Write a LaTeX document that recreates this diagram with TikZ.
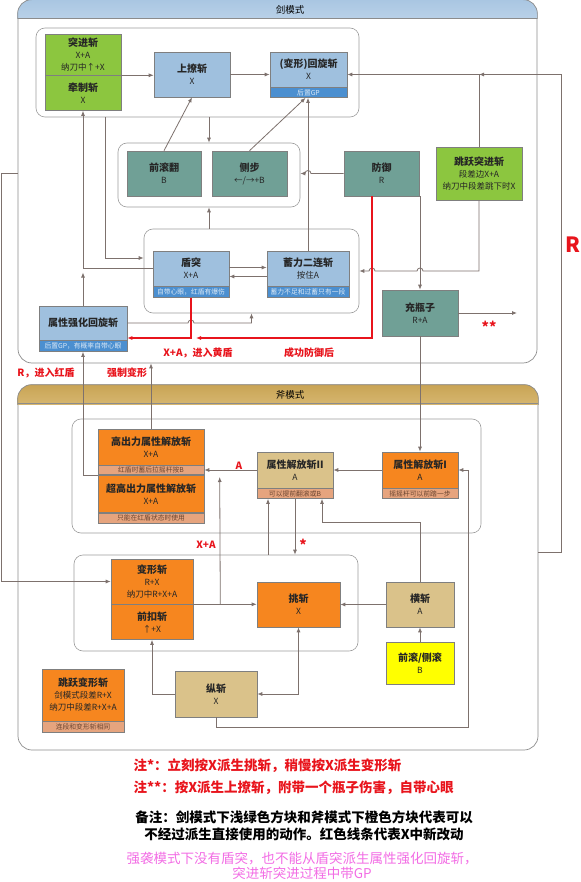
\documentclass[tikz,border=0pt]{standalone}
\usepackage{fontspec}
\setmainfont{Noto Sans CJK SC}
\usetikzlibrary{positioning,arrows.meta,calc}

\definecolor{lineg}{HTML}{7D716D}
\definecolor{frameg}{HTML}{8C8C8C}
\definecolor{groupg}{HTML}{9C9C9C}
\definecolor{edgeg}{HTML}{7F7F7F}
\definecolor{swordblue}{HTML}{9FC0DE}
\definecolor{swordtop}{HTML}{A9C6E2}
\definecolor{swordbottom}{HTML}{CBDDEE}
\definecolor{axetop}{HTML}{C9A455}
\definecolor{axebottom}{HTML}{E3C98A}
\definecolor{barblue}{HTML}{4B8FD0}
\definecolor{guardteal}{HTML}{70A096}
\definecolor{leafgreen}{HTML}{8CC63F}
\definecolor{axeorange}{HTML}{F6861F}
\definecolor{axetan}{HTML}{DAC28A}
\definecolor{peach}{HTML}{E6A47E}
\definecolor{peachtext}{HTML}{6B4530}
\definecolor{rollyellow}{HTML}{FFFF00}
\definecolor{redline}{HTML}{E8141C}
\definecolor{notepink}{HTML}{F26CE4}

\newcommand\subline[1]{\\{\mdseries\fontsize{8.5}{10.5}\selectfont #1}}

\begin{document}
\begin{tikzpicture}[x=1pt,y=-1pt,
  >={Latex[length=5pt,width=4pt]},
  modeframe/.style={draw=frameg,line width=0.7pt,rounded corners=14pt,fill=white,inner sep=0},
  grp/.style={draw=groupg,line width=0.6pt,rounded corners=9pt,inner sep=0},
  block/.style={draw=edgeg,line width=0.6pt,align=center,inner sep=1pt,text=black!85,
    font=\bfseries\fontsize{10}{12}\selectfont},
  bluebox/.style={block,fill=swordblue},
  greenbox/.style={block,fill=leafgreen},
  tealbox/.style={block,fill=guardteal},
  orangebox/.style={block,fill=axeorange},
  tanbox/.style={block,fill=axetan},
  yellowbox/.style={block,fill=rollyellow},
  subbar/.style={draw=edgeg,line width=0.6pt,inner sep=0,minimum height=10pt,
    font=\fontsize{6.8}{7}\selectfont},
  bluebar/.style={subbar,fill=barblue,text=white!80!barblue},
  peachbar/.style={subbar,fill=peach,text=peachtext},
  flow/.style={->,draw=lineg,line width=0.8pt},
  redflow/.style={->,draw=redline,line width=1.4pt},
  redtext/.style={text=redline,font=\bfseries\fontsize{10}{12}\selectfont},
  note/.style={font=\bfseries\fontsize{13.5}{17}\selectfont,align=center}
]
  \useasboundingbox (0,0) rectangle (580,882);

  % mode frames
  \node[modeframe,minimum width=519pt,minimum height=363pt] (sword) at (277.5,181.5) {};
  \node[modeframe,minimum width=520pt,minimum height=365pt] (axe) at (278,567.5) {};
  \begin{scope}
    \clip (0,-2) rectangle (580,19);
    \draw[frameg,line width=0.7pt,top color=swordtop,bottom color=swordbottom,rounded corners=14pt]
      (sword.north west) rectangle ($(sword.north east)+(0,-40pt)$);
  \end{scope}
  \draw[frameg,line width=0.7pt] ($(sword.north west)+(0,-19pt)$) -- ($(sword.north east)+(0,-19pt)$);
  \node[font=\fontsize{9.5}{10}\selectfont] (swordname) at (290,10) {剑模式};
  \begin{scope}
    \clip (0,383) rectangle (580,404);
    \draw[frameg,line width=0.7pt,top color=axetop,bottom color=axebottom,rounded corners=14pt]
      (axe.north west) rectangle ($(axe.north east)+(0,-40pt)$);
  \end{scope}
  \draw[frameg,line width=0.7pt] ($(axe.north west)+(0,-19pt)$) -- ($(axe.north east)+(0,-19pt)$);
  \node[font=\fontsize{9.5}{10}\selectfont] (axename) at (290,395) {斧模式};

  % groups
  \node[grp,minimum width=323pt,minimum height=89pt] (gtop) at (197.5,72.5) {};
  \node[grp,minimum width=182pt,minimum height=64pt] (groll) at (209,175) {};
  \node[grp,minimum width=215pt,minimum height=84pt] (gdun) at (251.5,271) {};
  \node[grp,minimum width=409pt,minimum height=114pt] (grel) at (276.5,476) {};
  \node[grp,minimum width=284pt,minimum height=96pt] (gtrans) at (216,603) {};

  % sword mode
  \node[greenbox,minimum width=76pt,minimum height=41pt] (tujin) at (83,54.5) {突进斩\subline{X+A}\subline{纳刀中↑+X}};
  \node[greenbox,minimum width=76pt,minimum height=35pt,below=0pt of tujin] (qianzhi) {牵制斩\subline{X}};
  \node[bluebox,minimum width=76pt,minimum height=45pt] (shangliao) at (192,74.5) {上撩斩\subline{X}};
  \node[bluebox,minimum width=77pt,minimum height=35pt] (spin) at (308.5,69.5) {(变形)回旋斩\subline{X}};
  \node[bluebar,minimum width=77pt,below=0pt of spin] (spinbar) {后置GP};
  \node[tealbox,minimum width=74pt,minimum height=45pt] (roll) at (164,173.5) {前滚翻\subline{B}};
  \node[tealbox,minimum width=75pt,minimum height=45pt] (sidestep) at (249.5,173.5) {侧步\subline{←/→+B}};
  \node[tealbox,minimum width=75pt,minimum height=45pt] (guard) at (381.5,173.5) {防御\subline{R}};
  \node[greenbox,minimum width=86pt,minimum height=53pt] (jumprush) at (479,173.5) {跳跃突进斩\subline{段差边X+A}\subline{纳刀中段差跳下时X}};
  \node[bluebox,minimum width=76pt,minimum height=35pt] (dun) at (191,268.5) {盾突\subline{X+A}};
  \node[bluebar,minimum width=76pt,minimum height=11pt,below=0pt of dun] (dunbar) {自带心眼，红盾有爆伤};
  \node[bluebox,minimum width=82pt,minimum height=35pt] (xuli) at (308,268.5) {蓄力二连斩\subline{按住A}};
  \node[bluebar,minimum width=82pt,minimum height=11pt,below=0pt of xuli] (xulibar) {蓄力不足和过蓄只有一段};
  \node[bluebox,minimum width=88pt,minimum height=34pt] (qianghua) at (83,323) {属性强化回旋斩};
  \node[bluebar,minimum width=88pt,minimum height=11pt,below=0pt of qianghua] (qianghuabar) {后置GP，有概率自带心眼};
  \node[tealbox,minimum width=76pt,minimum height=46pt] (chong) at (420,313) {充瓶子\subline{R+A}};

  % axe mode
  \node[orangebox,minimum width=106pt,minimum height=36pt] (gao) at (151,447) {高出力属性解放斩\subline{X+A}};
  \node[peachbar,minimum width=106pt,minimum height=9pt,below=0pt of gao] (gaobar) {红盾时蓄后拉摇杆按B};
  \node[orangebox,minimum width=106pt,minimum height=37pt,below=0pt of gaobar] (chaogao) {超高出力属性解放斩\subline{X+A}};
  \node[peachbar,minimum width=106pt,below=0pt of chaogao] (chaogaobar) {只能在红盾状态时使用};
  \node[tanbox,minimum width=76pt,minimum height=36pt] (rel2) at (295,470) {属性解放斩II\subline{A}};
  \node[peachbar,minimum width=76pt,below=0pt of rel2] (rel2bar) {可以提前翻滚或B};
  \node[orangebox,minimum width=76pt,minimum height=36pt] (rel1) at (420,470) {属性解放斩I\subline{A}};
  \node[peachbar,minimum width=76pt,below=0pt of rel1] (rel1bar) {摇摇杆可以前踏一步};
  \node[orangebox,minimum width=82pt,minimum height=45pt] (bianxing) at (152,581.5) {变形斩\subline{R+X}\subline{纳刀中R+X+A}};
  \node[orangebox,minimum width=82pt,minimum height=35pt,below=0pt of bianxing] (qiankou) {前扣斩\subline{↑+X}};
  \node[orangebox,minimum width=83pt,minimum height=45pt] (tiao) at (298.5,604.5) {挑斩\subline{X}};
  \node[tanbox,minimum width=68pt,minimum height=45pt] (heng) at (420,604.5) {横斩\subline{A}};
  \node[yellowbox,minimum width=68pt,minimum height=42pt,below=15pt of heng] (roll2) {前滚/侧滚\subline{B}};
  \node[tanbox,minimum width=82pt,minimum height=46pt] (zong) at (216,694) {纵斩\subline{X}};
  \node[orangebox,minimum width=82pt,minimum height=52pt] (jumptrans) at (83,695) {跳跃变形斩\subline{剑模式段差R+X}\subline{纳刀中段差R+X+A}};
  \node[peachbar,minimum width=82pt,minimum height=11pt,below=0pt of jumptrans] (jumptransbar) {连段和变形斩相同};

  \coordinate (rr) at (561,552);
  \coordinate (redjoin) at (196,338);
  \coordinate (chongout) at (517,313);
  \coordinate (rel2in) at ($(rel2bar.south)+(-27pt,0)$);
  \coordinate (rel2in2) at ($(rel2bar.south)+(27pt,0)$);
  \coordinate (gtopout) at ($(gtop.south)+(-92.5pt,0)$);

  % sword connectors
  \draw[flow] (qianzhi.north east) -- (qianzhi.north east -| shangliao.west);
  \draw[flow] (shangliao.east) -- (shangliao.east -| spin.west);
  \draw[flow] (roll.north) -- (shangliao.south);
  \draw[flow] (sidestep.north) -- ([xshift=-3pt]spinbar.south);
  \draw[flow] (groll.north |- gtop.south) -- (groll.north);
  \draw[flow] (xuli.north) -- (xuli.north |- spinbar.south);
  \draw[flow] (guard.west) -- ($(guard.west -| xuli.north)+(3pt,0)$) arc[start angle=0,end angle=180,radius=3pt] -- (guard.west -| groll.east);
  \draw[flow] (chong.north |- guard.south) -- (chong.north);
  \draw[flow] (jumprush.north) |- (shangliao.east -| spin.east);
  \draw[flow] (axe.east |- rr) -- (rr) |- (jumprush.north |- shangliao.east);
  \draw[flow] (jumprush.south) |- ($(gdun.east -| chong.north)+(3pt,0)$) arc[start angle=0,end angle=180,radius=3pt]
    -- ($(gdun.east -| guard.south)+(-6.5pt,0)$) arc[start angle=0,end angle=180,radius=3pt] -- (gdun.east);
  \draw[flow] (chong.east) -- (chongout);
  \draw[flow] (chong.south) -- (rel1.north);
  \draw[flow] (qianghua.north) -- ([yshift=-4pt]qianghua.north |- dun.west);
  \draw[flow] (dun.west) -| (qianzhi.south);
  \draw[flow] (gtopout) |- ([yshift=13pt]gdun.west);
  \draw[flow] (groll.south |- gdun.north) -- (groll.south);
  \draw[flow] (qianghua.east) -- ($(qianghua.east -| dunbar.south)+(-3pt,0)$) arc[start angle=180,end angle=0,radius=3pt] -| (gdun.south);
  \draw[flow] ([yshift=1pt]dun.east) -- ([yshift=1pt]dun.east -| xuli.west);
  \draw[flow] ([yshift=-8pt]xuli.west) -- ([yshift=-8pt]xuli.west -| dun.east);
  \draw[redflow] (dunbar.south) |- (qianghua.east |- redjoin);
  \draw[redflow] ([xshift=-9.5pt]guard.south) |- (redjoin);
  \draw[flow] (sword.west |- guard.west) -- ++(-16,0) |- (bianxing.west);

  % axe connectors
  \draw[flow] (gaobar.south west) -| (qianghuabar.south);
  \draw[flow] (gao.north) -- (gao.north |- sword.south);
  \draw[flow] (rel1.west) -- (rel2.east);
  \draw[flow] (rel2.west) -- (rel2.west -| gao.east);
  \draw[flow] (qiankou.north east) -- (qiankou.north east -| tiao.west);
  \draw[flow] ($(qiankou.north east)+(27pt,0)$) -- ($(rel2.west)+(-37pt,-7pt)$);
  \draw[flow] (rel2in |- gtrans.north) -- (rel2in);
  \draw[flow] (rel2bar.south) -- (rel2bar.south |- gtrans.north);
  \draw[flow] (heng.north) -- ++(0,-59) -| (rel2in2);
  \draw[flow] (zong.south) -- ++(0,10) -| ([xshift=10pt]rel1.east) -- (rel1.east);
  \draw[flow] (heng.west) -- (tiao.east);
  \draw[flow] (roll2.north) -- (heng.south);
  \draw[flow] (zong.west) -| (qiankou.south);
  \draw[flow,<->] (zong.east) -| (tiao.south);

  % labels
  \node[redtext] (yellowlbl) at (198,353) {X+A，进入黄盾};
  \node[redtext] (guardlbl) at (309,353) {成功防御后};
  \node[redtext] (redlbl) at (46,373) {R，进入红盾};
  \node[redtext] (forcelbl) at (127,373) {强制变形};
  \node[redtext] (alabel) at (239,466) {A};
  \node[redtext] (xalabel) at (206,545) {X+A};
  \node[redtext,font=\bfseries\fontsize{14}{14}\selectfont] (starlbl) at (303,545) {*};
  \node[redtext,font=\bfseries\fontsize{14}{14}\selectfont] (dstarlbl) at (489,327) {**};
  \node[text=redline,font=\bfseries\fontsize{21}{21}\selectfont] (rlbl) at (573,245) {R};

  % notes
  \node[note,text=redline,anchor=west] (note1) at (130,766) {注*：立刻按X派生挑斩，稍慢按X派生变形斩};
  \node[note,text=redline,anchor=west] (note2) at (130,788) {注**：按X派生上撩斩，附带一个瓶子伤害，自带心眼};
  \node[note] (note3) at (304,826) {备注：剑模式下浅绿色方块和斧模式下橙色方块代表可以\\不经过派生直接使用的动作。红色线条代表X中新改动};
  \node[note,text=notepink,font=\fontsize{13.5}{15}\selectfont] (note4) at (302,866) {强袭模式下没有盾突，也不能从盾突派生属性强化回旋斩，\\突进斩突进过程中带GP};
\end{tikzpicture}
\end{document}
